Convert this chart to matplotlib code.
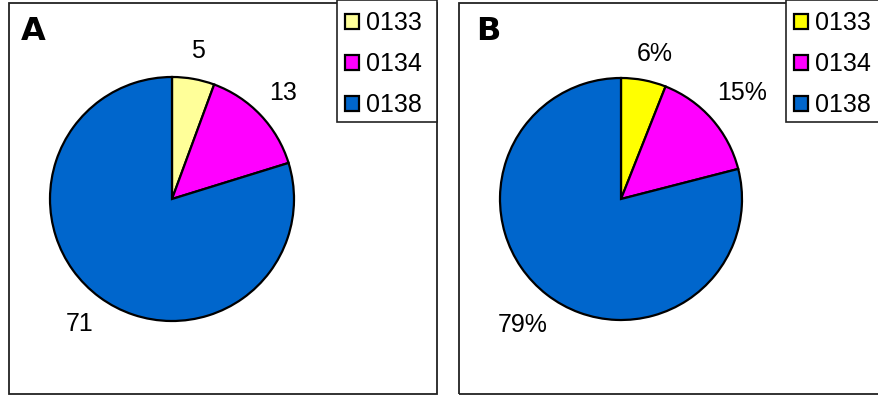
import matplotlib
matplotlib.use("Agg")
import matplotlib.pyplot as plt
from matplotlib.patches import Rectangle
import numpy as np

plt.rcParams['font.family'] = ['Liberation Sans', 'DejaVu Sans']

categories = ["0133", "0134", "0138"]
counts_a = [5, 13, 71]
percent_b = [6, 15, 79]

colors_a = ["#FFFF99", "#FF00FF", "#0066CC"]
colors_b = ["#FFFF00", "#FF00FF", "#0066CC"]

W, H = 879, 397
FS = 18
fig = plt.figure(figsize=(W / 100, H / 100), dpi=100)


def px_axes(cx, cy, r):
    return fig.add_axes([(cx - r) / W, (H - cy - r) / H, 2 * r / W, 2 * r / H])


def panel_frame(x0, y0, x1, y1):
    fig.patches.append(Rectangle((x0 / W, 1 - y1 / H), (x1 - x0) / W, (y1 - y0) / H,
                                 transform=fig.transFigure, fill=False,
                                 edgecolor="#222222", linewidth=1.3, zorder=0))


def draw_panel(values, colors, labels, cx, cy, r, label_pos, letter, letter_xy, legend_box):
    ax = px_axes(cx, cy, r)
    wedges, _ = ax.pie(values, colors=colors, startangle=90, counterclock=False,
                       radius=1.0, wedgeprops=dict(edgecolor="black", linewidth=1.6))
    ax.set_xlim(-1, 1)
    ax.set_ylim(-1, 1)
    ax.set_aspect("auto")
    ax.axis("off")
    for w, lab, (d, nudge) in zip(wedges, labels, label_pos):
        ang = np.deg2rad((w.theta1 + w.theta2) / 2 + nudge)
        ax.text(d * np.cos(ang), d * np.sin(ang), lab, ha="center", va="center",
                fontsize=FS, clip_on=False)
    fig.text(letter_xy[0] / W, 1 - letter_xy[1] / H, letter, fontsize=23,
             fontweight="heavy", family="DejaVu Sans", ha="left", va="center")
    x0, y0, x1, y1 = legend_box
    fig.patches.append(Rectangle((x0 / W, 1 - y1 / H), (x1 - x0) / W, (y1 - y0) / H,
                                 transform=fig.transFigure, facecolor="white",
                                 edgecolor="#222222", linewidth=1.2, zorder=1))
    leg = fig.legend(wedges, categories, loc="upper left",
                     bbox_to_anchor=((x0 + 8) / W, 1 - (y0 + 11) / H),
                     frameon=False, fontsize=FS, handlelength=0.56, handleheight=0.56,
                     handletextpad=0.3, labelspacing=0.68, borderpad=0,
                     borderaxespad=0)
    for h in leg.legend_handles:
        h.set_linewidth(1.6)


panel_frame(9, 3, 437, 394)
panel_frame(459, 3, 900, 394)

draw_panel(counts_a, colors_a, [str(v) for v in counts_a], 172, 199, 122,
           [(1.23, 0), (1.26, 0), (1.27, 0)], "A", (21, 32), (337, 0, 437, 122))
draw_panel(percent_b, colors_b, [f"{v}%" for v in percent_b], 621, 199, 121,
           [(1.23, -2.3), (1.33, 0), (1.32, 0)], "B", (476, 32), (786, 0, 900, 122))

fig.savefig("out.png", dpi=100, facecolor="white")
